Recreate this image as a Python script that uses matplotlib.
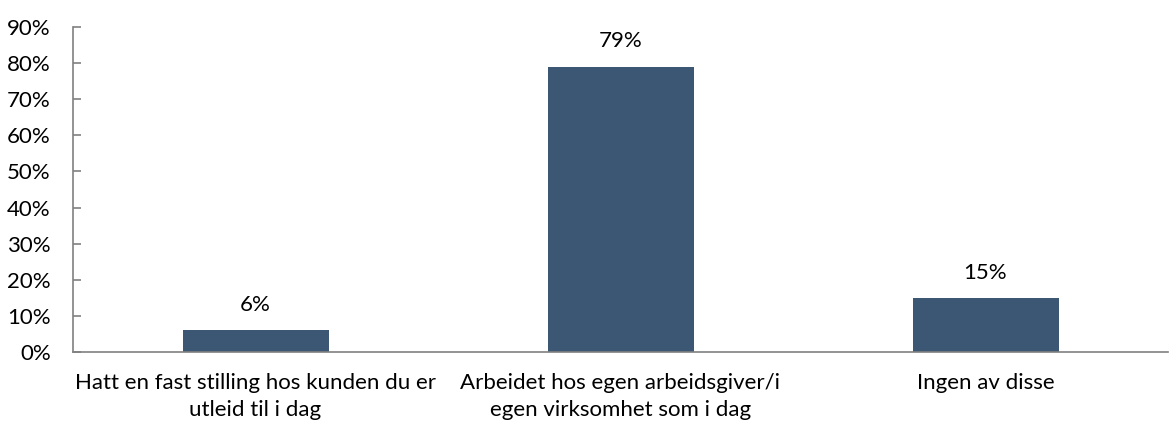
import matplotlib
matplotlib.use("Agg")
import matplotlib.pyplot as plt
from matplotlib.ticker import PercentFormatter

categories = ["Hatt en fast stilling hos kunden du er\nutleid til i dag",
              "Arbeidet hos egen arbeidsgiver/i\negen virksomhet som i dag",
              "Ingen av disse"]
values = [6, 79, 15]
value_labels = ["6%", "79%", "15%"]
yticks = [0, 10, 20, 30, 40, 50, 60, 70, 80, 90]

plt.rcParams['font.family'] = ['Lato', 'DejaVu Sans']
FS = 16

fig = plt.figure(figsize=(11.7, 4.23), dpi=100)
ax = fig.add_axes([73/1170, 1-352/423, (1168-73)/1170, (352-27)/423])

x = list(range(len(categories)))
bars = ax.bar(x, values, width=0.4, color="#3B5773")
for b, lab in zip(bars, value_labels):
    ax.annotate(lab, (b.get_x()+b.get_width()/2, b.get_height()),
                xytext=(0, 11), textcoords="offset points",
                ha="center", va="bottom", fontsize=FS, color="black")

ax.set_xlim(-0.5, 2.5)
ax.set_ylim(0, 90)
ax.set_yticks(yticks)
ax.yaxis.set_major_formatter(PercentFormatter(decimals=0))
ax.set_xticks(x)
ax.set_xticklabels(categories, fontsize=FS, linespacing=1.42)
ax.tick_params(axis="x", length=0, pad=15)
ax.tick_params(axis="y", direction="in", length=6, width=1.2, color="#808080", labelsize=FS, pad=16)
for s in ["top", "right"]:
    ax.spines[s].set_visible(False)
for s in ["left", "bottom"]:
    ax.spines[s].set_color("#808080")
    ax.spines[s].set_linewidth(1.2)

fig.savefig("out.png", dpi=100)
